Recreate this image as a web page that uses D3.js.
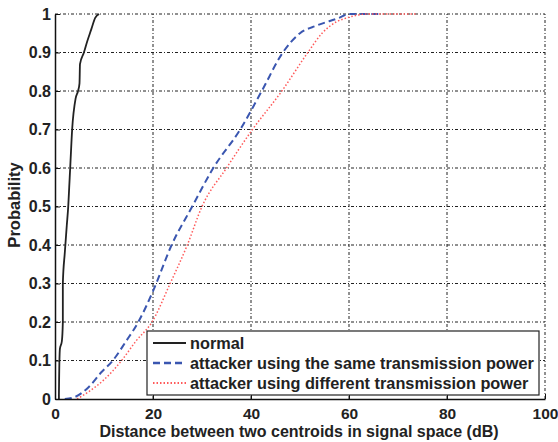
<!DOCTYPE html>
<html>
<head>
<meta charset="utf-8">
<script src="https://cdn.jsdelivr.net/npm/d3@7.9.0/dist/d3.min.js"></script>
<style>
  body { margin: 0; background: #fff; }
  svg { display: block; font-family: "Liberation Sans", Arial, sans-serif; font-weight: bold; }
</style>
</head>
<body>
<svg id="chart" width="558" height="442"></svg>
<script>
// ====== Data ======
const xTicks = [0, 20, 40, 60, 80, 100];
const yTicks = [0, 0.1, 0.2, 0.3, 0.4, 0.5, 0.6, 0.7, 0.8, 0.9, 1];

const normalX = [0.8, 0.8, 1.0, 1.4, 1.6, 1.6, 2.0, 2.4, 2.7, 2.9, 3.1, 3.5, 4.2, 4.7, 5.0, 5.1, 5.9, 6.6, 7.4, 8.2, 9.0];
const normalY = [0, 0.01, 0.13, 0.15, 0.2, 0.3, 0.38, 0.45, 0.5, 0.55, 0.6, 0.7, 0.78, 0.8, 0.82, 0.87, 0.9, 0.93, 0.96, 0.99, 1];

const sameX = [2.0, 4.0, 6.8, 9.5, 11.8, 14.5, 17.0, 20.0, 23.8, 28.0, 32.3, 37.8, 42.2, 46.5, 50.0, 53.4, 58.0, 60.0, 66.0];
const sameY = [0, 0.005, 0.03, 0.07, 0.1, 0.15, 0.2, 0.28, 0.4, 0.5, 0.6, 0.7, 0.8, 0.9, 0.95, 0.97, 0.99, 1, 1];

const diffX = [4.5, 7.0, 10.0, 13.6, 16.5, 19.8, 23.5, 27.0, 30.0, 35.0, 40.3, 46.3, 51.6, 54.5, 57.5, 59.6, 63.7, 74.0];
const diffY = [0, 0.02, 0.05, 0.1, 0.15, 0.2, 0.3, 0.4, 0.5, 0.6, 0.7, 0.8, 0.9, 0.95, 0.98, 0.99, 1, 1];

const legendLabels = [
  'normal',
  'attacker using the same transmission power',
  'attacker using different transmission power'
];

// ====== Setup ======
const svg = d3.select('#chart');
const margin = { left: 55, right: 13, top: 14, bottom: 43 };
const width = 558, height = 442;

const x = d3.scaleLinear().domain([0, 100]).range([margin.left, width - margin.right]);
const y = d3.scaleLinear().domain([0, 1]).range([height - margin.bottom, margin.top]);

const gridDash = '3,2,1,2';

// grid lines
svg.append('g').selectAll('line')
  .data(xTicks.slice(1))
  .join('line')
  .attr('x1', d => x(d)).attr('x2', d => x(d))
  .attr('y1', y(0)).attr('y2', y(1))
  .attr('stroke', '#222').attr('stroke-width', 1)
  .attr('stroke-dasharray', gridDash);

svg.append('g').selectAll('line')
  .data(yTicks.slice(1))
  .join('line')
  .attr('x1', x(0)).attr('x2', x(100))
  .attr('y1', d => y(d)).attr('y2', d => y(d))
  .attr('stroke', '#222').attr('stroke-width', 1)
  .attr('stroke-dasharray', gridDash);

// ====== Curves ======
const line = d3.line().x(d => x(d[0])).y(d => y(d[1]));
const series = [
  { xs: normalX, ys: normalY, color: '#222', dash: null, w: 1.8 },
  { xs: sameX, ys: sameY, color: '#3a56b0', dash: '7,4', w: 2 },
  { xs: diffX, ys: diffY, color: '#ff5a5a', dash: '1.5,2', w: 1.5 }
];

series.forEach(s => {
  svg.append('path')
    .datum(d3.zip(s.xs, s.ys))
    .attr('d', line.curve(d3.curveMonotoneX))
    .attr('fill', 'none')
    .attr('stroke', s.color)
    .attr('stroke-width', s.w)
    .attr('stroke-dasharray', s.dash);
});

// ====== Axes ======
const xAxis = d3.axisBottom(x).tickValues(xTicks).tickSizeInner(-5).tickSizeOuter(0).tickPadding(9);
const yAxis = d3.axisLeft(y).tickValues(yTicks).tickSizeInner(-5).tickSizeOuter(0).tickPadding(4)
  .tickFormat(d => d === 0 || d === 1 ? d3.format('d')(d) : d3.format('.1f')(d));

const gx = svg.append('g').attr('transform', `translate(0,${y(0)})`).call(xAxis);
const gy = svg.append('g').attr('transform', `translate(${x(0)},0)`).call(yAxis);

[gx, gy].forEach(g => {
  g.select('.domain').attr('stroke', '#111').attr('stroke-width', 1.5);
  g.selectAll('.tick line').attr('stroke', '#111');
  g.selectAll('.tick text')
    .attr('font-size', 16).attr('font-weight', 'bold')
    .attr('font-family', '"Liberation Sans", Arial, sans-serif')
    .attr('fill', '#222');
});
gx.selectAll('.tick text').attr('font-size', 15.5).attr('dy', '0.71em');

// axis titles
svg.append('text')
  .attr('x', 299).attr('y', 437)
  .attr('text-anchor', 'middle')
  .attr('font-size', 16).attr('fill', '#222')
  .text('Distance between two centroids in signal space (dB)');

svg.append('text')
  .attr('transform', 'translate(20,205) rotate(-90)')
  .attr('text-anchor', 'middle')
  .attr('font-size', 16.5).attr('fill', '#222')
  .text('Probability');

// ====== Legend ======
const lg = svg.append('g').attr('transform', 'translate(147,331)');
lg.append('rect')
  .attr('width', 392).attr('height', 64)
  .attr('fill', '#fff').attr('stroke', '#222').attr('stroke-width', 1.2);

legendLabels.forEach((label, i) => {
  const s = series[i];
  const ly = 12 + i * 20;
  lg.append('line')
    .attr('x1', 6).attr('x2', 39)
    .attr('y1', ly).attr('y2', ly)
    .attr('stroke', s.color).attr('stroke-width', s.w + 0.3)
    .attr('stroke-dasharray', s.dash);
  lg.append('text')
    .attr('x', 43).attr('y', ly + 6)
    .attr('font-size', 16.3).attr('fill', '#222')
    .text(label);
});
</script>
</body>
</html>
